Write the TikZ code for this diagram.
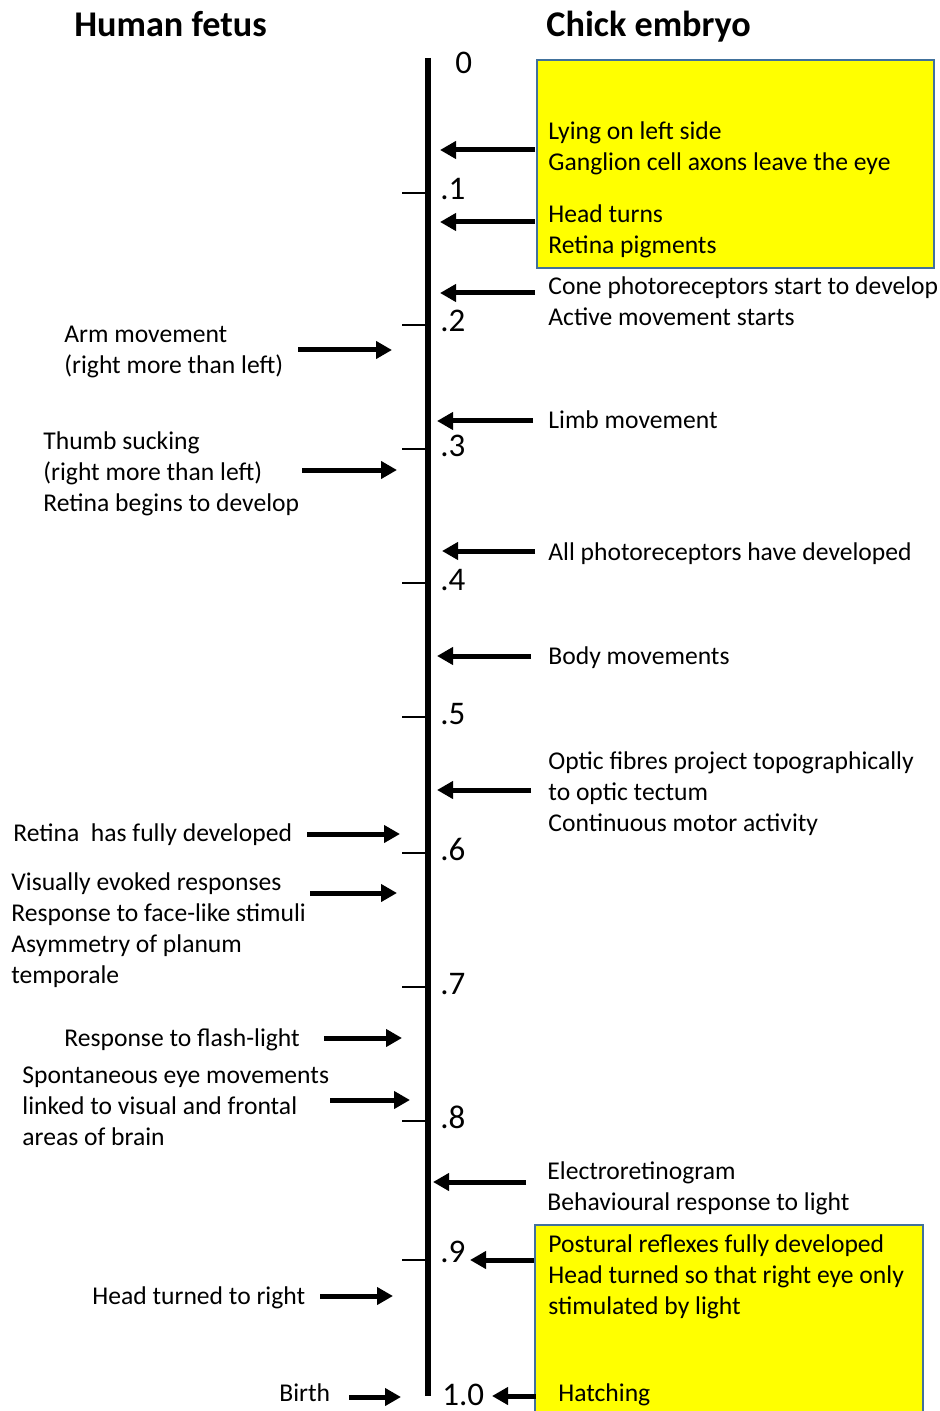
\documentclass[tikz,border=0pt]{standalone}
\usepackage{fontspec}
\setmainfont{Carlito}
\usetikzlibrary{arrows.meta}
\definecolor{boxyellow}{RGB}{255,255,0}
\definecolor{boxblue}{RGB}{65,113,156}

\begin{document}
\begin{tikzpicture}[
  x=0.5pt, y=-0.5pt,
  font=\fontsize{12.8}{15.5}\selectfont,
  arr/.style     ={-{Triangle[length=8pt, width=8.5pt]}, line width=2.5pt},
  evt/.style     ={anchor=base west, align=left, inner sep=0pt},
  head/.style    ={anchor=base west, inner sep=0pt, font=\fontsize{18.1}{22}\selectfont\bfseries},
  tlabel/.style  ={anchor=base west, inner sep=0pt, font=\fontsize{16.5}{20}\selectfont},
  tickline/.style={line width=1pt},
  axisline/.style={line width=3pt},
  chickbox/.style={draw=boxblue, line width=1pt, fill=boxyellow},
]
\useasboundingbox (0,0) rectangle (939,1411);

% ---- column heads ----
\node[head] (fetus) at (74,37) {Human fetus};
\node[head] (chick) at (546,37) {Chick embryo};

% ---- yellow boxes ----
\coordinate (boxAnw) at (537,60);
\coordinate (boxAse) at (934,268);
\path[chickbox] (boxAnw) rectangle (boxAse);
\coordinate (boxBnw) at (535,1225);
\coordinate (boxBse) at (923,1425);
\path[chickbox] (boxBnw) rectangle (boxBse);

% ---- time axis ----
\coordinate (axtop) at (428,58);
\coordinate (axbot) at (428,1396);
\draw[axisline] (axtop) -- (axbot);

\foreach \lab/\ty/\by [count=\i] in {.1/193/200, .2/325/332, .3/449/456, .4/583/590,
    .5/717/724, .6/853/860, .7/987/994, .8/1121/1128, .9/1260/1262} {
  \coordinate (tka\i) at (402,\ty);
  \coordinate (tkb\i) at (428,\ty);
  \draw[tickline] (tka\i) -- (tkb\i);
  \node[tlabel] (lab\i) at (440,\by) {\lab};
}
\node[tlabel] (lab0)  at (455,74)   {0};
\node[tlabel] (lab10) at (442,1405) {1.0};

% ---- chick embryo (right), placed by the last line ----
\node[evt] (lying)   at (548,171)  {Lying on left side\\Ganglion cell axons leave the eye};
\node[evt] (headtn)  at (548,254)  {Head turns\\Retina pigments};
\node[evt] (cone)    at (548,326)  {Cone photoreceptors start to develop\\Active movement starts};
\node[evt] (limb)    at (548,429)  {Limb movement};
\node[evt] (allph)   at (548,560)  {All photoreceptors have developed};
\node[evt] (bodymv)  at (548,664)  {Body movements};
\node[evt] (optic)   at (548,831)  {Optic fibres project topographically\\to optic tectum\\Continuous motor activity};
\node[evt] (erg)     at (547,1210) {Electroretinogram\\Behavioural response to light};
\node[evt] (postur)  at (548,1314) {Postural reflexes fully developed\\Head turned so that right eye only\\stimulated by light};
\node[evt] (hatch)   at (558,1401) {Hatching};

\foreach \y/\xs/\xe [count=\i] in {150/535/440, 222/535/440, 293/535/440, 421/533/437,
    551/535/442, 656/531/437, 790/531/437, 1182/526/433, 1260/534/470, 1396/536/492} {
  \coordinate (cs\i) at (\xs,\y);
  \coordinate (ce\i) at (\xe,\y);
  \draw[arr] (cs\i) -- (ce\i);
}

% ---- human fetus (left) ----
\node[evt] (arm)     at (64,374)   {Arm movement\\(right more than left)};
\node[evt] (thumb)   at (43,511)   {Thumb sucking\\(right more than left)\\Retina begins to develop};
\node[evt] (retful)  at (13,841)   {Retina~~has fully developed};
\node[evt] (visual)  at (11,983)   {Visually evoked responses\\Response to face-like stimuli\\Asymmetry of planum\\temporale};
\node[evt] (flash)   at (64,1046)  {Response to flash-light};
\node[evt] (spont)   at (22,1145)  {Spontaneous eye movements\\linked to visual and frontal\\areas of brain};
\node[evt] (headrt)  at (92,1304)  {Head turned to right};
\node[evt] (birth)   at (279,1401) {Birth};

\foreach \y/\xs/\xe [count=\i] in {350/298/392, 470/302/397, 834/307/400, 893/310/397,
    1038/324/402, 1100/330/410, 1296/320/393, 1397/349/401} {
  \coordinate (fs\i) at (\xs,\y);
  \coordinate (fe\i) at (\xe,\y);
  \draw[arr] (fs\i) -- (fe\i);
}

\end{tikzpicture}
\end{document}
